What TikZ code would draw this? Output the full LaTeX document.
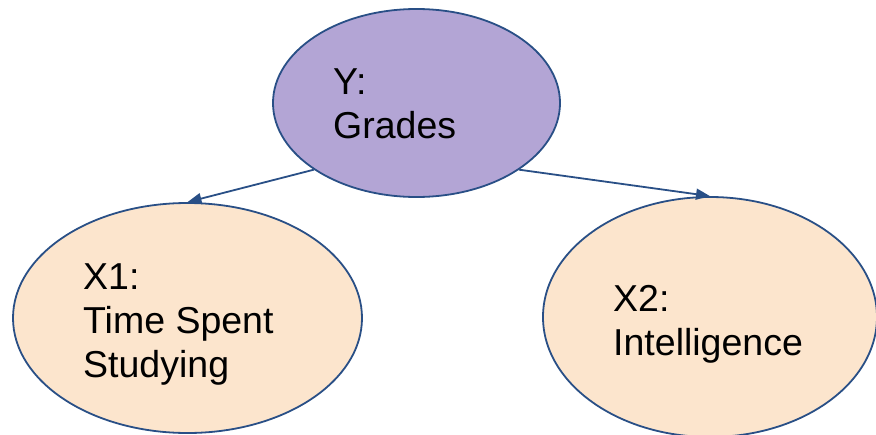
\documentclass[tikz,border=0pt]{standalone}
\usepackage{fontspec}
\setmainfont{Liberation Sans}
\usetikzlibrary{arrows.meta,shapes.geometric}

\definecolor{edgeblue}{RGB}{41,79,134}
\definecolor{yfill}{RGB}{179,165,213}
\definecolor{xfill}{RGB}{252,229,205}

\tikzset{
  var/.style={ellipse, draw=edgeblue, line width=1.8pt, inner sep=0pt},
  lbl/.style={anchor=base west, inner sep=0pt, align=left,
    font=\fontsize{37.5}{44}\selectfont},
  >={Triangle[length=14pt,width=11pt]}
}

\begin{document}
\begin{tikzpicture}[x=1pt,y=-1pt]
\useasboundingbox (0,0) rectangle (876,434);
\node[var, fill=yfill, minimum width=287pt, minimum height=188pt] (Y) at (416.5,103) {};
\node[var, fill=xfill, minimum width=349pt, minimum height=230pt] (X1) at (187.5,318) {};
\node[var, fill=xfill, minimum width=334pt, minimum height=240pt] (X2) at (710,317) {};
% base anchor sits on the last line
\node[lbl] (Ytxt) at (333,138) {Y:\\Grades};
\node[lbl] (X1txt) at (83,377) {X1:\\Time Spent\\Studying};
\node[lbl] (X2txt) at (613,355) {X2:\\Intelligence};
\draw[->, edgeblue, line width=1.8pt] (Y.213) -- (X1.north);
\draw[->, edgeblue, line width=1.8pt] (Y.-33) -- (X2.north);
\end{tikzpicture}
\end{document}
